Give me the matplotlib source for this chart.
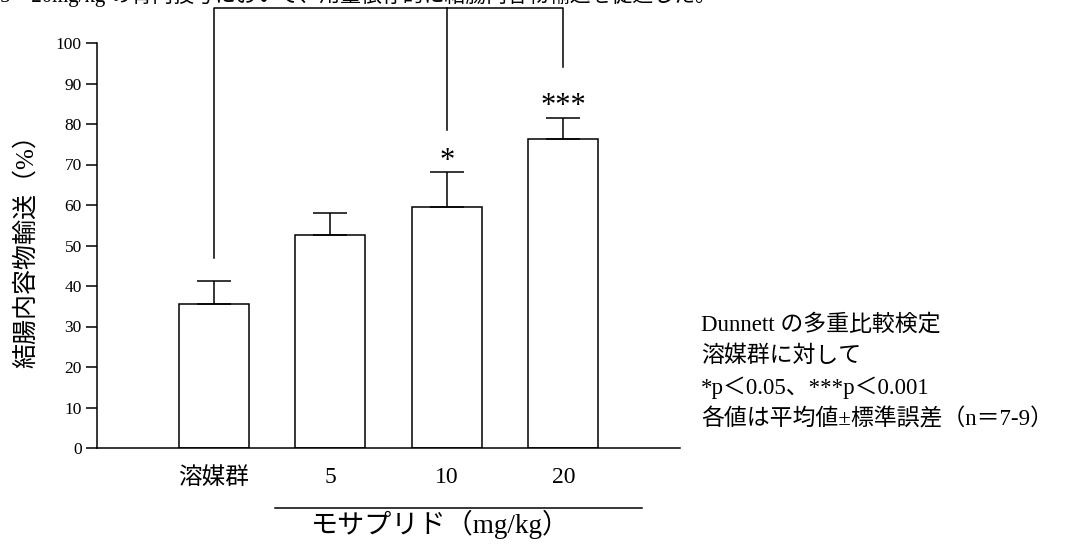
import matplotlib
matplotlib.use("Agg")
import matplotlib.pyplot as plt

plt.rcParams['font.family'] = ['Liberation Serif', 'Noto Sans CJK JP']

groups = ['溶媒群', '5', '10', '20']
means = [35.5, 52.7, 59.4, 76.3]
sems = [5.7, 5.3, 8.8, 5.3]
stars = ['', '', '*', '***']
yticks = list(range(0, 101, 10))

fig = plt.figure(figsize=(10.67, 5.45), dpi=100)
ax = fig.add_axes([97 / 1067, 97 / 545, 583 / 1067, 405 / 545])

x = list(range(len(groups)))
ax.bar(x, means, width=0.6, color='white', edgecolor='black', linewidth=1.1, zorder=2)
ax.errorbar(x, means, yerr=[[0] * len(sems), sems], fmt='none', ecolor='black',
            elinewidth=1.1, capsize=12, capthick=1.1, zorder=3)

ax.set_xlim(-1, 4)
ax.set_ylim(0, 100)
ax.set_yticks(yticks)
ax.tick_params(axis='y', length=8, width=1.1, labelsize=12.5, pad=3)
ax.tick_params(axis='x', length=0, pad=14)
ax.set_xticks(x)
ax.set_xticklabels(groups, fontsize=17)
for s in ['top', 'right']:
    ax.spines[s].set_visible(False)
for s in ['left', 'bottom']:
    ax.spines[s].set_linewidth(1.1)

ax.set_ylabel('結腸内容物輸送（%）', fontsize=18)
ax.yaxis.set_label_coords(-59 / 583, 0.5)

# comparison bracket above the bars
top = 108.6
ax.plot([0, 0, 3, 3], [47, top, top, 94], color='black', lw=1.1, clip_on=False)
ax.plot([2, 2], [top, 78.5], color='black', lw=1.1, clip_on=False)
for xi, m, e, st in zip(x, means, sems, stars):
    if st:
        ax.text(xi, m + e + 0.8, st, ha='center', va='baseline', fontsize=22)

# dose group underline and label
fig.add_artist(plt.Line2D([275 / 1067, 642 / 1067], [37 / 545, 37 / 545],
                          color='black', lw=1.1))
fig.text(440 / 1067, 21 / 545, 'モサプリド（mg/kg）', ha='center', va='center', fontsize=19.5)

note = ['Dunnett の多重比較検定', '溶媒群に対して',
        '*p＜0.05、***p＜0.001', '各値は平均値±標準誤差（n＝7-9）']
for i, line in enumerate(note):
    fig.text(701 / 1067, (545 - 325 - 31.5 * i) / 545, line, ha='left', va='center',
             fontsize=16.5)

# clipped caption line at the very top
fig.text(0, 1 - 2 / 545, '5～20mg/kg の胃内投与において、用量依存的に結腸内容物輸送を促進した。',
         ha='left', va='baseline', fontsize=15)

fig.savefig('out.png', dpi=100)
